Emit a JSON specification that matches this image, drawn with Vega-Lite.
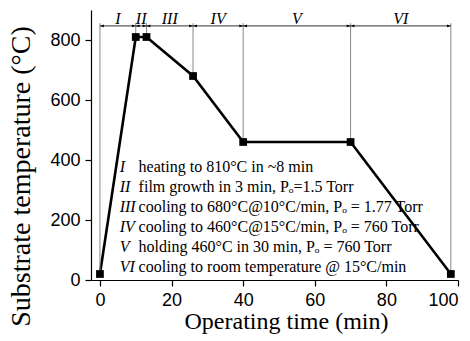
{
  "$schema": "https://vega.github.io/schema/vega-lite/v6.json",
  "width": 367,
  "height": 270,
  "autosize": "none",
  "padding": {"left": 91, "top": 10, "right": 12, "bottom": 61},
  "background": "white",
  "config": {
    "view": {"stroke": null},
    "axis": {
      "grid": false,
      "domainColor": "black",
      "domainWidth": 1.2,
      "tickColor": "black",
      "tickWidth": 1.2,
      "labelColor": "black",
      "titleColor": "black",
      "labelFont": "Liberation Sans",
      "labelFontSize": 18,
      "titleFont": "Liberation Serif",
      "titleFontWeight": "normal"
    }
  },
  "datasets": {
    "profile": [
      {"t": 0, "temp": 20},
      {"t": 10, "temp": 810},
      {"t": 13, "temp": 810},
      {"t": 26, "temp": 680},
      {"t": 40, "temp": 460},
      {"t": 70, "temp": 460},
      {"t": 98, "temp": 20}
    ],
    "segments": [
      {"label": "I", "start": 0, "end": 10, "mid": 5},
      {"label": "II", "start": 10, "end": 13, "mid": 11.5},
      {"label": "III", "start": 13, "end": 26, "mid": 19.5},
      {"label": "IV", "start": 26, "end": 40, "mid": 33},
      {"label": "V", "start": 40, "end": 70, "mid": 55},
      {"label": "VI", "start": 70, "end": 98, "mid": 84}
    ],
    "notes": [
      {"num": "I", "desc": "heating to 810°C in ~8 min", "ty": 378},
      {"num": "II", "desc": "film growth in 3 min, Pₒ=1.5 Torr", "ty": 311},
      {"num": "III", "desc": "cooling to 680°C@10°C/min, Pₒ = 1.77 Torr", "ty": 244},
      {"num": "IV", "desc": "cooling to 460°C@15°C/min, Pₒ = 760 Torr", "ty": 177},
      {"num": "V", "desc": "holding 460°C in 30 min, Pₒ = 760 Torr", "ty": 110},
      {"num": "VI", "desc": "cooling to room temperature @ 15°C/min", "ty": 44}
    ]
  },
  "layer": [
    {
      "data": {"name": "profile"},
      "mark": {"type": "line", "color": "black", "strokeWidth": 2.6},
      "encoding": {
        "x": {
          "field": "t", "type": "quantitative",
          "scale": {"domain": [-2.5, 100], "nice": false, "zero": false},
          "axis": {
            "values": [0, 10, 20, 30, 40, 50, 60, 70, 80, 90, 100],
            "labelExpr": "datum.value % 20 == 0 ? datum.label : ''",
            "tickSize": {"condition": {"test": "datum.value % 20 == 0", "value": 6}, "value": 3.5},
            "labelPadding": 5,
            "title": "Operating time (min)",
            "titleFontSize": 24,
            "titleBaseline": "alphabetic",
            "titleX": 195,
            "titleY": 48.5
          }
        },
        "y": {
          "field": "temp", "type": "quantitative",
          "scale": {"domain": [0, 900], "nice": false},
          "axis": {
            "values": [0, 100, 200, 300, 400, 500, 600, 700, 800, 900],
            "labelExpr": "datum.value % 200 == 0 && datum.value < 900 ? datum.label : ''",
            "tickSize": {"condition": {"test": "datum.value % 200 == 0", "value": 6}, "value": 3.5},
            "labelPadding": 5,
            "title": "Substrate temperature (°C)",
            "titleFontSize": 28,
            "titleBaseline": "alphabetic",
            "titleAngle": 270,
            "titleX": -62,
            "titleY": 166
          }
        }
      }
    },
    {
      "data": {"name": "profile"},
      "mark": {"type": "rule", "color": "#888888", "strokeWidth": 1},
      "encoding": {
        "x": {"field": "t", "type": "quantitative"},
        "y": {"field": "temp", "type": "quantitative"},
        "y2": {"datum": 856}
      }
    },
    {
      "data": {"name": "profile"},
      "mark": {"type": "point", "shape": "square", "filled": true, "color": "black", "size": 60, "opacity": 1},
      "encoding": {
        "x": {"field": "t", "type": "quantitative"},
        "y": {"field": "temp", "type": "quantitative"}
      }
    },
    {
      "data": {"name": "segments"},
      "mark": {"type": "rule", "color": "#333333", "strokeWidth": 1},
      "encoding": {
        "x": {"field": "start", "type": "quantitative"},
        "x2": {"field": "end"},
        "y": {"datum": 847, "type": "quantitative"}
      }
    },
    {
      "data": {"name": "segments"},
      "mark": {"type": "point", "shape": "M0,0L1,-0.35L1,0.35Z", "filled": true, "color": "black", "size": 60, "opacity": 1},
      "encoding": {
        "x": {"field": "start", "type": "quantitative"},
        "y": {"datum": 847, "type": "quantitative"}
      }
    },
    {
      "data": {"name": "segments"},
      "mark": {"type": "point", "shape": "M0,0L-1,-0.35L-1,0.35Z", "filled": true, "color": "black", "size": 60, "opacity": 1},
      "encoding": {
        "x": {"field": "end", "type": "quantitative"},
        "y": {"datum": 847, "type": "quantitative"}
      }
    },
    {
      "data": {"name": "segments"},
      "mark": {"type": "text", "font": "Liberation Serif", "fontStyle": "italic", "fontSize": 16, "color": "black", "baseline": "alphabetic", "align": "center"},
      "encoding": {
        "x": {"field": "mid", "type": "quantitative"},
        "y": {"datum": 852, "type": "quantitative"},
        "text": {"field": "label"}
      }
    },
    {
      "data": {"name": "notes"},
      "mark": {"type": "text", "font": "Liberation Serif", "fontStyle": "italic", "fontSize": 16, "color": "black", "baseline": "middle", "align": "left"},
      "encoding": {
        "x": {"datum": 5.5, "type": "quantitative"},
        "y": {"field": "ty", "type": "quantitative"},
        "text": {"field": "num"}
      }
    },
    {
      "data": {"name": "notes"},
      "mark": {"type": "text", "font": "Liberation Serif", "fontSize": 16, "color": "black", "baseline": "middle", "align": "left"},
      "encoding": {
        "x": {"datum": 10.8, "type": "quantitative"},
        "y": {"field": "ty", "type": "quantitative"},
        "text": {"field": "desc"}
      }
    }
  ]
}
